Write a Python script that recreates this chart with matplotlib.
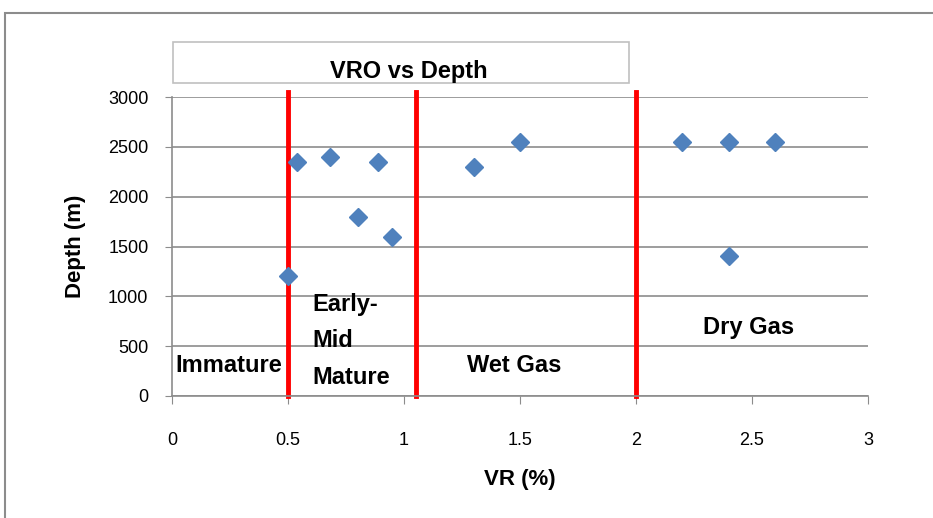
import numpy as np
import matplotlib
matplotlib.use("Agg")
import matplotlib.pyplot as plt
from matplotlib.patches import Rectangle

# data
vr = [0.5, 0.54, 0.68, 0.8, 0.89, 0.95, 1.3, 1.5, 2.2, 2.4, 2.6, 2.4]
depth = [1200, 2350, 2400, 1800, 2350, 1600, 2300, 2550, 2550, 2550, 2550, 1400]
boundaries = [0.5, 1.05, 2.0]
zone_names = ["Immature", "Early-\nMid\nMature", "Wet Gas", "Dry Gas"]
zone_pos = [(0.013, 311), (0.605, 552), (1.27, 311), (2.29, 692)]
xticks = [0, 0.5, 1, 1.5, 2, 2.5, 3]
yticks = [0, 500, 1000, 1500, 2000, 2500, 3000]

W, H = 933, 518
plt.rcParams['font.family'] = ['Liberation Sans', 'DejaVu Sans']
fig = plt.figure(figsize=(W / 100, H / 100), dpi=100)

# outer chart border
fig.patches.append(Rectangle((5 / W, -0.1), 2.0, 1 - 13 / H + 0.1, transform=fig.transFigure,
                             fill=False, edgecolor='#8c8c8c', linewidth=1.5))

ax = fig.add_axes([172 / W, 1 - 396 / H, (868 - 172) / W, (396 - 97) / H])
ax.set_xlim(0, 3)
ax.set_ylim(0, 3000)
ax.set_xticks(xticks)
ax.set_xticklabels(['0', '0.5', '1', '1.5', '2', '2.5', '3'])
ax.set_yticks(yticks)
ax.grid(axis='y', color='#8c8c8c', linewidth=1.2)
ax.set_axisbelow(True)
for s in ['top', 'right']:
    ax.spines[s].set_visible(False)
for s in ['left', 'bottom']:
    ax.spines[s].set_color('#8c8c8c')
    ax.spines[s].set_linewidth(1.2)
ax.tick_params(axis='x', length=6, color='#8c8c8c', pad=20, labelsize=13)
ax.tick_params(axis='y', length=5, color='#8c8c8c', pad=12, labelsize=13)

for b in boundaries:
    ax.axvline(b, ymin=0, ymax=1.017, color='#ff0000', linewidth=3.5, clip_on=False, zorder=2)

ax.plot(vr, depth, linestyle='none', marker='D', markersize=9, color='#4f81bd', zorder=3)

for name, (x, y) in zip(zone_names, zone_pos):
    ax.text(x, y, name, fontsize=17, fontweight='bold', va='center', ha='left',
            linespacing=1.75, zorder=4)

ax.set_xlabel('VR (%)', fontsize=16, fontweight='bold', labelpad=14)
ax.set_ylabel('Depth (m)', fontsize=16, fontweight='bold', labelpad=16)

# title box
fig.patches.append(Rectangle((173 / W, 1 - 83 / H), (629 - 173) / W, 41 / H,
                             transform=fig.transFigure, fill=False,
                             edgecolor='#c0c0c0', linewidth=1.2))
fig.text(330 / W, 1 - 71 / H, 'VRO vs Depth', fontsize=17, fontweight='bold', va='center', ha='left')

fig.savefig('out.png', dpi=100)
